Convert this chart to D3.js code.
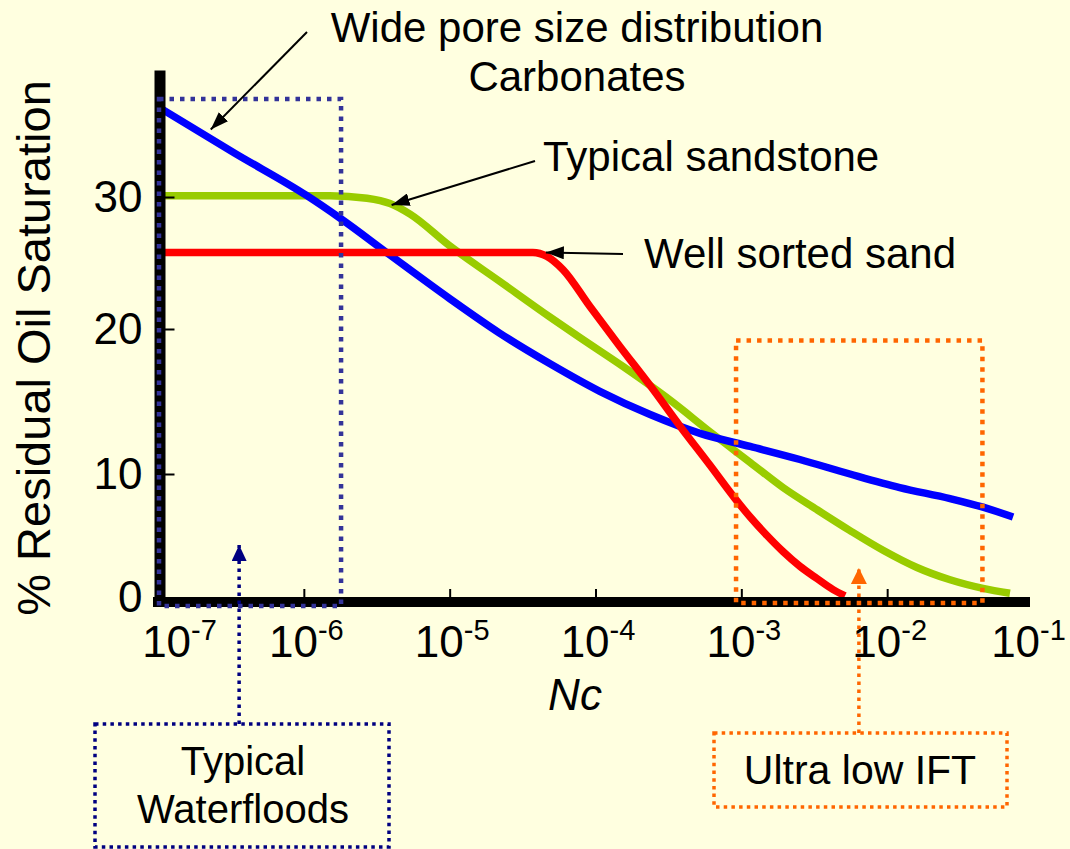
<!DOCTYPE html>
<html>
<head>
<meta charset="utf-8">
<script src="https://cdn.jsdelivr.net/npm/d3@7"></script>
<style>
  body { margin: 0; background: #ffffe0; }
  svg { display: block; }
  text { font-family: Arial, "Liberation Sans", sans-serif; fill: #000; }
</style>
</head>
<body>
<div id="chart"></div>
<script>
// Wide pore size distribution (carbonates) - blue
const wideNc = [1.08e-7, 3.37e-7, 1.05e-6, 1.77e-6, 3.9e-6, 1.0e-5, 2.21e-5, 4.88e-5, 1.07e-4, 2.37e-4, 5.21e-4, 1.15e-3, 2.52e-3, 5.56e-3, 1.22e-2, 2.7e-2, 4.54e-2, 7.3e-2];
const wideSor = [36.6, 33.3, 30.1, 28.4, 25.6, 22.3, 19.7, 17.6, 15.7, 14.1, 12.8, 11.9, 11.0, 10.0, 8.9, 8.0, 7.3, 6.5];

// Typical sandstone - green
const sandstoneNc = [1.08e-7, 1.51e-6, 2.71e-6, 3.9e-6, 5.35e-6, 1.0e-5, 2.21e-5, 4.88e-5, 7.83e-5, 1.55e-4, 3.24e-4, 6.3e-4, 1.15e-3, 1.93e-3, 3.3e-3, 5.56e-3, 9.37e-3, 1.6e-2, 2.7e-2, 4.54e-2, 6.95e-2];
const sandstoneSor = [30.1, 30.1, 29.9, 29.5, 28.7, 26.3, 23.6, 20.9, 19.4, 17.4, 15.1, 12.8, 10.8, 8.9, 7.1, 5.4, 3.8, 2.4, 1.4, 0.7, 0.3];

// Well sorted sand - red
const sortedNc = [1.08e-7, 3.72e-5, 4.65e-5, 5.98e-5, 9.16e-5, 1.47e-4, 2.37e-4, 3.8e-4, 6.1e-4, 9.06e-4, 1.15e-3, 1.5e-3, 1.93e-3, 2.52e-3, 3.3e-3, 4.26e-3, 5.14e-3];
const sortedSor = [25.8, 25.8, 25.5, 24.5, 21.7, 18.8, 16.1, 13.3, 10.6, 8.0, 6.5, 5.0, 3.7, 2.5, 1.5, 0.6, 0.1];

// ticks
const xTicks = [1e-7, 1e-6, 1e-5, 1e-4, 1e-3, 1e-2, 1e-1];
const xTickExp = ["-7", "-6", "-5", "-4", "-3", "-2", "-1"];
const yTicks = [0, 10, 20, 30];

// marked regions (Nc range, top So) and where their arrows point
const waterfloodRange = [1e-7, 1.8e-6], waterfloodTop = 37.4, waterfloodArrowNc = 3.6e-7;
const ultraLowRange = [9.2e-4, 4.5e-2], ultraLowTop = 19.2, ultraLowArrowNc = 6.4e-3;

const W = 1070, H = 849;

const svg = d3.select("#chart").append("svg")
  .attr("width", W)
  .attr("height", H);

svg.append("rect").attr("width", W).attr("height", H).attr("fill", "#ffffe0");

// Skalaer - y-aksen er lidt ujævn i originalen, derfor flere led
const x = d3.scaleLog().domain([1e-7, 1e-1]).range([158, 1033]);
const y = d3.scaleLinear().domain([0, 10, 20, 30, 39.6]).range([597, 474, 329, 197, 70]);

// markers
const defs = svg.append("defs");
function marker(id, color, len, wid) {
  defs.append("marker")
    .attr("id", id)
    .attr("markerUnits", "userSpaceOnUse")
    .attr("viewBox", "0 0 " + len + " " + wid)
    .attr("refX", len)
    .attr("refY", wid / 2)
    .attr("markerWidth", len)
    .attr("markerHeight", wid)
    .attr("orient", "auto")
    .append("path")
    .attr("d", "M0,0L" + len + "," + wid / 2 + "L0," + wid + "Z")
    .attr("fill", color);
}
marker("arrBlack", "#000", 18, 13);
marker("arrNavy", "#000080", 16, 15);
marker("arrOrange", "#ff6600", 16, 16);

// Kurverne
const line = d3.line()
  .x((d) => x(d[0]))
  .y((d) => y(d[1]))
  .curve(d3.curveMonotoneX);

const series = [
  { nc: sandstoneNc, sor: sandstoneSor, color: "#99cc00" },
  { nc: wideNc, sor: wideSor, color: "#0000ff" },
  { nc: sortedNc, sor: sortedSor, color: "#ff0000" }
];

svg.selectAll(".curve")
  .data(series)
  .enter()
  .append("path")
  .attr("class", "curve")
  .attr("d", (s) => line(d3.zip(s.nc, s.sor)))
  .attr("fill", "none")
  .attr("stroke", (s) => s.color)
  .attr("stroke-width", 7.5);

// axes
const yAxis = svg.append("g")
  .attr("transform", "translate(159.5,0)")
  .call(d3.axisLeft(y).tickValues(yTicks).tickSize(-15).tickSizeOuter(0).tickPadding(17));
yAxis.select(".domain").attr("stroke", "#000").attr("stroke-width", 11);
yAxis.selectAll(".tick line")
  .attr("stroke", "#000")
  .attr("stroke-width", 2)
  .attr("opacity", (d) => (d === 0 ? 0 : 1));
yAxis.selectAll(".tick text")
  .attr("font-size", 44)
  .style("font-family", "Arial, 'Liberation Sans', sans-serif")
  .attr("fill", "#000");

const xAxis = svg.append("g")
  .attr("transform", "translate(0,602)")
  .call(d3.axisBottom(x).tickValues(xTicks).tickSize(-13).tickSizeOuter(0).tickFormat(""));
xAxis.select(".domain").attr("stroke", "#000").attr("stroke-width", 10)
  .attr("d", "M153,0H1030");
xAxis.selectAll(".tick line")
  .attr("stroke", "#000")
  .attr("stroke-width", 2)
  .attr("opacity", (d, i) => (i === 0 || i === xTicks.length - 1 ? 0 : 1));

const xLab = xAxis.selectAll(".tick").append("text")
  .attr("y", 55)
  .attr("dx", (d, i) => (i === 0 ? 21 : i === xTicks.length - 1 ? -5 : 2))
  .attr("text-anchor", "middle")
  .attr("font-size", 44);
xLab.append("tspan").text("10");
xLab.append("tspan")
  .attr("font-size", 29)
  .attr("dy", -17)
  .text((d, i) => xTickExp[i]);

// dotted boxes inside the plot (on top of curves and axes)
svg.append("rect")
  .attr("x", x(waterfloodRange[0]) + 1)
  .attr("y", y(waterfloodTop))
  .attr("width", x(waterfloodRange[1]) - x(waterfloodRange[0]) - 1)
  .attr("height", y(0) - y(waterfloodTop) + 9)
  .attr("fill", "none")
  .attr("stroke", "#333399")
  .attr("stroke-width", 4.5)
  .attr("stroke-dasharray", "4.5,6");

svg.append("rect")
  .attr("x", x(ultraLowRange[0]))
  .attr("y", y(ultraLowTop))
  .attr("width", x(ultraLowRange[1]) - x(ultraLowRange[0]))
  .attr("height", y(0) - y(ultraLowTop) + 6)
  .attr("fill", "none")
  .attr("stroke", "#ff6600")
  .attr("stroke-width", 4.5)
  .attr("stroke-dasharray", "4.5,6");

// axis titles
svg.append("text")
  .attr("transform", "translate(50,348) rotate(-90)")
  .attr("text-anchor", "middle")
  .attr("font-size", 47)
  .text("% Residual Oil Saturation");

svg.append("text")
  .attr("x", 575)
  .attr("y", 710)
  .attr("text-anchor", "middle")
  .attr("font-size", 44)
  .attr("font-style", "italic")
  .text("Nc");

// curve labels with black arrows
const notes = [
  { from: [307, 32], nc: 2.3e-7, sor: 35.1 },
  { from: [535, 161], nc: 4.0e-6, sor: 29.4 },
  { from: [623, 254], nc: 3.9e-5, sor: 25.8, dx: 10 }
];
svg.selectAll(".note")
  .data(notes)
  .enter()
  .append("line")
  .attr("class", "note")
  .attr("x1", (d) => d.from[0])
  .attr("y1", (d) => d.from[1])
  .attr("x2", (d) => x(d.nc) + (d.dx || 0))
  .attr("y2", (d) => y(d.sor))
  .attr("stroke", "#000")
  .attr("stroke-width", 2)
  .attr("marker-end", "url(#arrBlack)");

svg.append("text").attr("x", 577).attr("y", 42).attr("text-anchor", "middle")
  .attr("font-size", 42).text("Wide pore size distribution");
svg.append("text").attr("x", 577).attr("y", 91).attr("text-anchor", "middle")
  .attr("font-size", 42).text("Carbonates");
svg.append("text").attr("x", 543).attr("y", 171)
  .attr("font-size", 42).text("Typical sandstone");
svg.append("text").attr("x", 644).attr("y", 268)
  .attr("font-size", 42).text("Well sorted sand");

// lower call-out boxes with dotted arrows
svg.append("line")
  .attr("x1", x(waterfloodArrowNc)).attr("y1", 724)
  .attr("x2", x(waterfloodArrowNc)).attr("y2", 545)
  .attr("stroke", "#000080")
  .attr("stroke-width", 3.5)
  .attr("stroke-dasharray", "3.5,4.5")
  .attr("marker-end", "url(#arrNavy)");

svg.append("rect")
  .attr("x", 95).attr("y", 724).attr("width", 294).attr("height", 123)
  .attr("fill", "none")
  .attr("stroke", "#000080")
  .attr("stroke-width", 3.5)
  .attr("stroke-dasharray", "3.5,4.2");

svg.append("text").attr("x", 243).attr("y", 775).attr("text-anchor", "middle")
  .attr("font-size", 40).text("Typical");
svg.append("text").attr("x", 243).attr("y", 823).attr("text-anchor", "middle")
  .attr("font-size", 40).text("Waterfloods");

svg.append("line")
  .attr("x1", x(ultraLowArrowNc)).attr("y1", 733)
  .attr("x2", x(ultraLowArrowNc)).attr("y2", 568)
  .attr("stroke", "#ff6600")
  .attr("stroke-width", 3.5)
  .attr("stroke-dasharray", "3.5,4.5")
  .attr("marker-end", "url(#arrOrange)");

svg.append("rect")
  .attr("x", 714).attr("y", 733).attr("width", 293).attr("height", 74)
  .attr("fill", "none")
  .attr("stroke", "#ff6600")
  .attr("stroke-width", 3.5)
  .attr("stroke-dasharray", "3.5,4.2");

svg.append("text").attr("x", 860).attr("y", 784).attr("text-anchor", "middle")
  .attr("font-size", 41).text("Ultra low IFT");
</script>
</body>
</html>
